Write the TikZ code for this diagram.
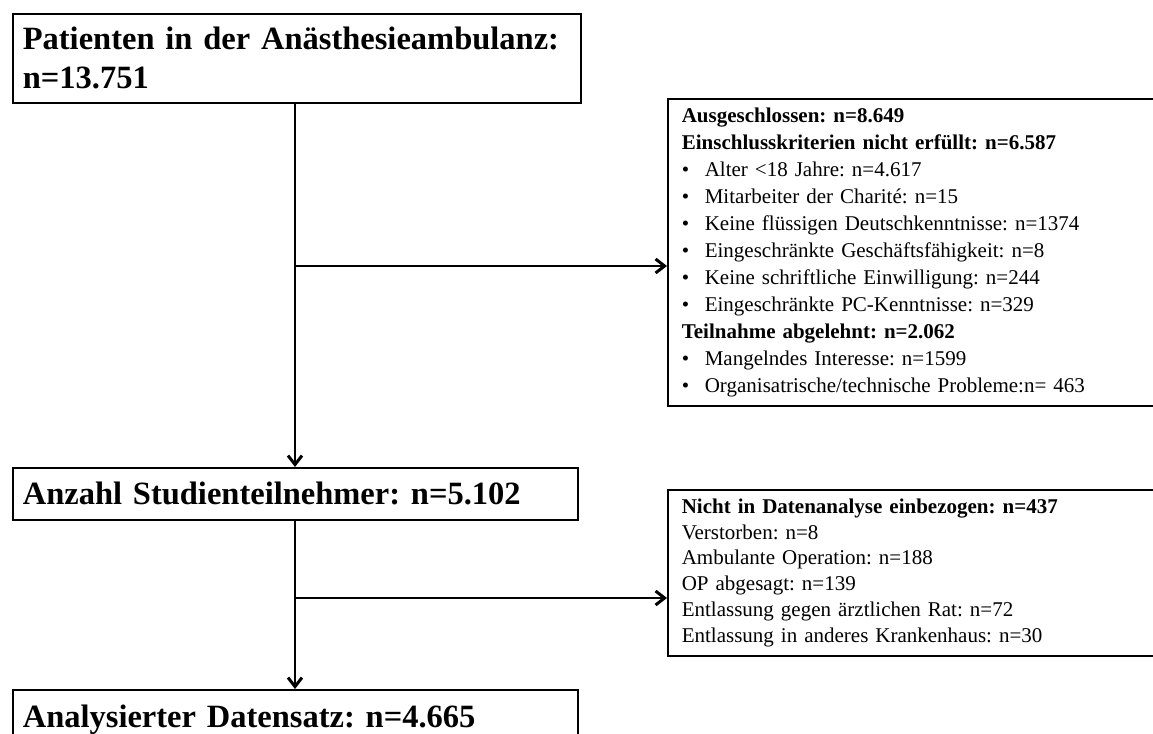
\documentclass[tikz,border=0pt]{standalone}
\usepackage{fontspec}
\setmainfont{Liberation Serif}
\usetikzlibrary{arrows.meta}
\begin{document}
\frenchspacing
\begin{tikzpicture}[x=1pt,y=-1pt,
  mainbox/.style={draw, line width=1.6pt, anchor=north west, inner xsep=10pt, inner ysep=0pt, align=left, font=\fontsize{32.5}{39}\selectfont\bfseries\frenchspacing},
  sidebox/.style={draw, line width=1.6pt, anchor=north west, inner xsep=14pt, inner ysep=0pt, align=left, text width=470pt},
  conn/.style={line width=1.3pt, -{Straight Barb[length=9pt,width=14pt,line width=3pt]}}]
\useasboundingbox (0,0) rectangle (1153,733);
\fill[white] (0,0) rectangle (1153,733);

\node[mainbox, minimum width=568pt, minimum height=89pt, text width=548pt] (b1) at (12,13)
  {Patienten in der Anästhesieambulanz:\\ n=13.751};
\node[mainbox, minimum width=565pt, minimum height=52pt, text width=545pt] (b2) at (12,467)
  {Anzahl Studienteilnehmer: n=5.102};
\node[mainbox, minimum width=565pt, minimum height=60pt, text width=545pt] (b3) at (12,689)
  {Analysierter Datensatz: n=4.665};

\node[sidebox, minimum height=307pt, font=\fontsize{21}{27}\selectfont\frenchspacing] (rb1) at (667,98)
  {{\bfseries Ausgeschlossen: n=8.649}\\
   {\bfseries Einschlusskriterien nicht erfüllt: n=6.587}\\
   \makebox[23pt][l]{\textbullet}Alter <18 Jahre: n=4.617\\
   \makebox[23pt][l]{\textbullet}Mitarbeiter der Charité: n=15\\
   \makebox[23pt][l]{\textbullet}Keine flüssigen Deutschkenntnisse: n=1374\\
   \makebox[23pt][l]{\textbullet}Eingeschränkte Geschäftsfähigkeit: n=8\\
   \makebox[23pt][l]{\textbullet}Keine schriftliche Einwilligung: n=244\\
   \makebox[23pt][l]{\textbullet}Eingeschränkte PC-Kenntnisse: n=329\\
   {\bfseries Teilnahme abgelehnt: n=2.062}\\
   \makebox[23pt][l]{\textbullet}Mangelndes Interesse: n=1599\\
   \makebox[23pt][l]{\textbullet}Organisatrische/technische Probleme:n= 463};

\node[sidebox, minimum height=166pt, font=\fontsize{21}{25.7}\selectfont\frenchspacing] (rb2) at (667,489)
  {{\bfseries Nicht in Datenanalyse einbezogen: n=437}\\
   Verstorben: n=8\\
   Ambulante Operation: n=188\\
   OP abgesagt: n=139\\
   Entlassung gegen ärztlichen Rat: n=72\\
   Entlassung in anderes Krankenhaus: n=30};

\coordinate (xl) at (295,0);
\coordinate (j1) at (295,266);
\coordinate (j2) at (295,598);
\draw[conn] (b1.south -| xl) -- (b2.north -| xl);
\draw[conn] (j1) -- (rb1.west |- j1);
\draw[conn] (b2.south -| xl) -- (b3.north -| xl);
\draw[conn] (j2) -- (rb2.west |- j2);
\end{tikzpicture}
\end{document}
